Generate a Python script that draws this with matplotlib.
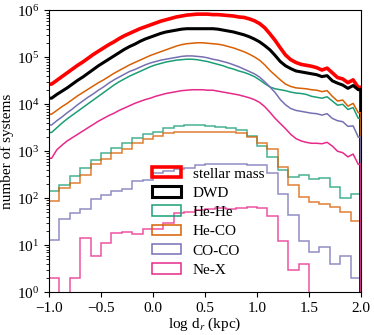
import numpy as np
import matplotlib
matplotlib.use("Agg")
import matplotlib.pyplot as plt
from matplotlib.patches import Patch

plt.rcParams['font.family'] = ['Liberation Serif', 'DejaVu Serif']
plt.rcParams['mathtext.fontset'] = 'stix'
plt.rcParams['font.size'] = 11

# fine-binned distributions (bin width 0.05 in log d_r), values are log10(number)
fine_edges = np.round(np.arange(-1.0, 2.0001, 0.05), 3)
log_stellar_mass = [4.43, 4.51, 4.59, 4.67, 4.75, 4.83, 4.90, 4.98, 5.06, 5.13,
                    5.20, 5.27, 5.33, 5.40, 5.46, 5.51, 5.56, 5.61, 5.65, 5.69,
                    5.73, 5.77, 5.80, 5.83, 5.86, 5.88, 5.90, 5.91, 5.92, 5.92,
                    5.92, 5.91, 5.91, 5.90, 5.89, 5.88, 5.86, 5.85, 5.82, 5.78,
                    5.72, 5.63, 5.50, 5.36, 5.20, 5.05, 4.95, 4.89, 4.85, 4.83,
                    4.81, 4.78, 4.73, 4.77, 4.67, 4.57, 4.54, 4.46, 4.52, 4.36]
log_dwd = [4.13, 4.21, 4.28, 4.35, 4.43, 4.51, 4.58, 4.66, 4.74, 4.82,
           4.89, 4.96, 5.03, 5.10, 5.17, 5.23, 5.28, 5.34, 5.39, 5.43,
           5.47, 5.51, 5.54, 5.56, 5.58, 5.60, 5.61, 5.61, 5.61, 5.61,
           5.61, 5.61, 5.60, 5.58, 5.56, 5.54, 5.51, 5.48, 5.44, 5.39,
           5.33, 5.25, 5.16, 5.04, 4.91, 4.82, 4.76, 4.71, 4.69, 4.67,
           4.65, 4.63, 4.59, 4.61, 4.50, 4.45, 4.41, 4.34, 4.40, 4.31]
log_hehe = [3.40, 3.50, 3.60, 3.69, 3.77, 3.85, 3.93, 4.01, 4.09, 4.17,
            4.25, 4.33, 4.41, 4.48, 4.54, 4.60, 4.65, 4.70, 4.75, 4.80,
            4.84, 4.87, 4.90, 4.92, 4.94, 4.95, 4.96, 4.96, 4.95, 4.93,
            4.91, 4.88, 4.85, 4.82, 4.78, 4.75, 4.71, 4.68, 4.64, 4.59,
            4.52, 4.44, 4.37, 4.33, 4.31, 4.29, 4.26, 4.24, 4.23, 4.21,
            4.17, 4.15, 4.13, 4.16, 4.07, 3.98, 4.00, 3.89, 3.93, 3.70]
log_heco = [3.79, 3.87, 3.95, 4.02, 4.10, 4.18, 4.25, 4.32, 4.39, 4.46,
            4.52, 4.59, 4.66, 4.72, 4.78, 4.84, 4.89, 4.94, 4.99, 5.04,
            5.08, 5.12, 5.16, 5.20, 5.24, 5.27, 5.29, 5.30, 5.31, 5.31,
            5.30, 5.29, 5.28, 5.26, 5.23, 5.20, 5.16, 5.12, 5.07, 5.01,
            4.94, 4.84, 4.72, 4.62, 4.52, 4.43, 4.38, 4.35, 4.34, 4.33,
            4.31, 4.30, 4.27, 4.29, 4.17, 4.07, 4.09, 3.96, 4.02, 3.82]
log_coco = [3.56, 3.65, 3.73, 3.82, 3.90, 3.99, 4.07, 4.15, 4.22, 4.30,
            4.37, 4.45, 4.52, 4.58, 4.64, 4.70, 4.74, 4.79, 4.84, 4.88,
            4.91, 4.94, 4.96, 4.98, 5.00, 5.02, 5.03, 5.03, 5.02, 5.01,
            4.99, 4.96, 4.94, 4.91, 4.88, 4.84, 4.80, 4.75, 4.70, 4.65,
            4.58, 4.48, 4.37, 4.25, 4.10, 3.99, 3.91, 3.87, 3.85, 3.83,
            3.81, 3.80, 3.77, 3.80, 3.70, 3.65, 3.63, 3.53, 3.54, 3.30]
log_nex = [2.85, 3.03, 3.13, 3.22, 3.29, 3.36, 3.43, 3.50, 3.57, 3.64,
           3.70, 3.76, 3.81, 3.87, 3.92, 3.97, 4.02, 4.06, 4.10, 4.13,
           4.17, 4.20, 4.23, 4.25, 4.27, 4.29, 4.30, 4.31, 4.31, 4.31,
           4.30, 4.30, 4.28, 4.26, 4.24, 4.22, 4.20, 4.17, 4.14, 4.10,
           4.04, 3.95, 3.83, 3.70, 3.59, 3.48, 3.36, 3.27, 3.22, 3.19,
           3.17, 3.17, 3.16, 3.19, 3.11, 3.00, 2.97, 2.88, 2.94, 2.72]

# coarse-binned distributions (bin width 0.1), counts
coarse_edges = np.round(np.arange(-1.0, 2.0001, 0.1), 3)
hehe_coarse = [142, 190, 295, 437, 645, 912, 1150, 1510, 1900, 2340,
               2630, 3090, 3470, 3550, 3600, 3500, 3350, 3150, 2800, 2100,
               1300, 770, 400, 288, 310, 257, 265, 177, 102, 121]
heco_coarse = [87, 162, 209, 310, 527, 680, 930, 1100, 1480, 1800,
               2130, 2400, 2530, 2570, 2600, 2620, 2620, 2600, 2500, 2050,
               1480, 1100, 470, 191, 108, 84, 74, 66, 52, 33]
coco_coarse = [13, 36, 48, 60, 95, 115, 145, 155, 230, 240,
               340, 380, 420, 450, 500, 530, 540, 540, 530, 520,
               510, 350, 125, 44, 12, 7, 9, 4, 6, 2]
nex_coarse = [2, 0, 2, 14, 6, 11, 18, 19, 17, 22,
              22, 30, 48, 50, 56, 60, 62, 58, 62, 65,
              62, 42, 12, 3, 4, 0, 0, 0, 0, 0]

labels = ["stellar mass", "DWD", "He-He", "He-CO", "CO-CO", "Ne-X"]
colors = ["#ff0000", "#000000", "#1b9e77", "#d95f02", "#7570b3", "#e7298a"]
widths = [2.6, 2.2, 1.1, 1.1, 1.1, 1.1]

fig = plt.figure(figsize=(3.74, 3.35), dpi=100)
ax = fig.add_axes([0.131, 0.128, 0.834, 0.841])
ax.set_yscale('log')

centers = 0.5 * (fine_edges[:-1] + fine_edges[1:])
fine_series = [log_stellar_mass, log_dwd, log_hehe, log_heco, log_coco, log_nex]
for vals, c, lw in zip(fine_series, colors, widths):
    v = 10 ** np.array(vals)
    xs = np.concatenate([[fine_edges[0]], centers, [fine_edges[-1], fine_edges[-1]]])
    ys = np.concatenate([[v[0]], v, [v[-1], 1e-3]])
    ax.plot(xs, ys, color=c, lw=lw, solid_joinstyle='round')

coarse_series = [hehe_coarse, heco_coarse, coco_coarse, nex_coarse]
for vals, c in zip(coarse_series, colors[2:]):
    ax.stairs(np.array(vals, dtype=float), coarse_edges, color=c, lw=1.1,
              alpha=0.8, baseline=0)

ax.set_xlim(-1.0, 2.0)
ax.set_ylim(1, 1e6)
ax.set_xticks([-1.0, -0.5, 0.0, 0.5, 1.0, 1.5, 2.0])
ax.tick_params(which='both', direction='out', top=False, right=False)
ax.set_xlabel(r"log d$_r$ (kpc)")
ax.set_ylabel("number of systems")
ax.xaxis.set_label_coords(0.5, -0.083)
ax.yaxis.set_label_coords(-0.112, 0.5)

handles = [Patch(facecolor='none', edgecolor=c, lw=lw) for c, lw in zip(colors, widths)]
ax.legend(handles, labels, loc='upper left', bbox_to_anchor=(0.311, 0.466),
          borderaxespad=0, frameon=False, fontsize=11, labelspacing=0.37,
          handlelength=1.9, handleheight=0.68, handletextpad=0.75)

fig.savefig("out.png", dpi=100)
